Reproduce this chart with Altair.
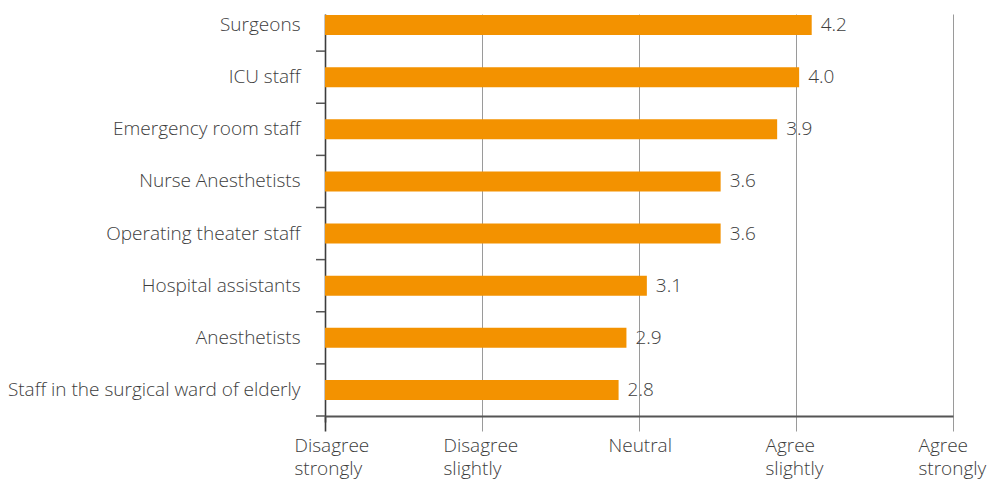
import json
import altair as alt
import pandas as pd

groups = [
    "Surgeons",
    "ICU staff",
    "Emergency room staff",
    "Nurse Anesthetists",
    "Operating theater staff",
    "Hospital assistants",
    "Anesthetists",
    "Staff in the surgical ward of elderly",
]
bar_values = [4.10, 4.02, 3.88, 3.52, 3.52, 3.05, 2.92, 2.87]
value_labels = ["4.2", "4.0", "3.9", "3.6", "3.6", "3.1", "2.9", "2.8"]
scale_labels = ["Disagree strongly", "Disagree slightly", "Neutral", "Agree slightly", "Agree strongly"]
scale_ticks = [1, 2, 3, 4, 5]

df = pd.DataFrame({"group": groups, "value": bar_values, "label": value_labels})

FONT = "Open Sans"
FS = 19
TXT = "#3d3d3d"
ORANGE = "#F39200"

yscale = alt.Scale(range=[-15, 402], paddingInner=0, paddingOuter=0)
ysort = groups

xaxis = alt.Axis(
    values=scale_ticks,
    title=None,
    grid=True,
    gridColor={"condition": {"test": "datum.value == 1", "value": "#3d3d3d"}, "value": "#9a9a9a"},
    gridWidth={"condition": {"test": "datum.value == 1", "value": 1.6}, "value": 1},
    tickColor={"condition": {"test": "datum.value == 1", "value": "#3d3d3d"}, "value": "#9a9a9a"},
    tickWidth={"condition": {"test": "datum.value == 1", "value": 1.6}, "value": 1},
    tickSize=6,
    domainColor="#555555",
    domainWidth=2,
    labelExpr="split(" + json.dumps(scale_labels) + "[datum.value - 1], ' ')",
    labelAlign="left",
    labelOffset={"condition": [
        {"test": "datum.value == 2", "value": -39},
        {"test": "datum.value == 5", "value": -35},
    ], "value": -31},
    labelBaseline="top",
    labelPadding=14,
    labelLineHeight=23,
    labelFont=FONT,
    labelFontSize=FS,
    labelFontWeight=300,
    labelColor=TXT,
    labelFlush=False,
    labelOverlap=False,
)

x = alt.X("value:Q", scale=alt.Scale(domain=[1, 5], nice=False, zero=False), axis=xaxis)

bars = alt.Chart(df).mark_bar(color=ORANGE, height=alt.RelativeBandSize(0.385)).encode(
    x=x,
    x2=alt.datum(1),
    y=alt.Y("group:N", sort=ysort, scale=yscale,
            axis=alt.Axis(title=None, domain=False, ticks=False, grid=False,
                          labelFont=FONT, labelFontSize=FS, labelFontWeight=300,
                          labelColor=TXT, labelPadding=25, labelLimit=400)),
)

text = alt.Chart(df).mark_text(align="left", baseline="middle", dx=9, font=FONT,
                               fontSize=FS, fontWeight=300, color=TXT).encode(
    x=alt.X("value:Q"),
    y=alt.Y("group:N", sort=ysort),
    text="label:N",
)

yticks = alt.Chart(df).mark_rule(color="#555555", strokeWidth=1.5).encode(
    x=alt.value(-9),
    x2=alt.value(0),
    y=alt.Y("group:N", sort=ysort, bandPosition=1),
)

chart = alt.layer(bars, yticks, text).properties(
    width=628,
    height=402,
    autosize="none",
    padding={"left": 317, "top": 6, "right": 35, "bottom": 68},
).configure_view(stroke=None)

chart.save("out.html", embed_options={"renderer": "svg", "actions": False})
